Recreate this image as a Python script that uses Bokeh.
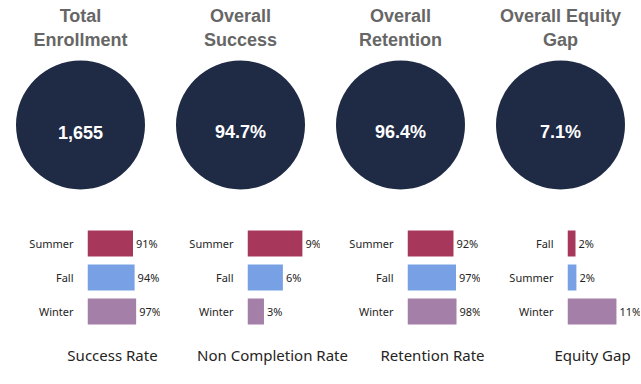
from bokeh.plotting import figure
from bokeh.layouts import column, row
from bokeh.models import ColumnDataSource, FactorRange, Range1d, LabelSet
from bokeh.core.properties import value
from bokeh.embed import file_html
from bokeh.resources import INLINE

# ---- data ----
kpi_title_line1 = ["Total", "Overall", "Overall", "Overall Equity"]
kpi_title_line2 = ["Enrollment", "Success", "Retention", "Gap"]
kpi_values = ["1,655", "94.7%", "96.4%", "7.1%"]

success_terms = ["Summer", "Fall", "Winter"]
success_rate = [91.0, 94.2, 97.3]
noncompletion_terms = ["Summer", "Fall", "Winter"]
noncompletion_rate = [9.0, 5.8, 2.7]
retention_terms = ["Summer", "Fall", "Winter"]
retention_rate = [92.0, 97.0, 98.0]
equity_terms = ["Fall", "Summer", "Winter"]
equity_gap = [1.8, 2.0, 11.0]

chart_titles = ["Success Rate", "Non Completion Rate", "Retention Rate", "Equity Gap"]

# ---- styles ----
CIRCLE = "#1F2B45"
TITLE_GRAY = "#666666"
DARK = "#252423"
BAR_COLORS = ["#A8385B", "#77A1E4", "#A47FA8"]
LABEL_FONT = "Noto Sans"
COL_W = 160
TOTAL_W = 4 * COL_W
BAR_LEFT = 87


def clean(p):
    p.grid.visible = False
    p.outline_line_color = None
    p.background_fill_color = None
    p.border_fill_color = "white"


# ---- KPI circles ----
top = figure(width=TOTAL_W, height=218, x_range=Range1d(-0.5, 3.5), y_range=Range1d(218, 0),
             x_axis_location=None, y_axis_location=None, title=None,
             output_backend="svg", toolbar_location=None, min_border=0)
clean(top)
kx = list(range(len(kpi_values)))
n = len(kpi_values)
ksrc = ColumnDataSource(dict(x=kx, l1=kpi_title_line1, l2=kpi_title_line2, v=kpi_values,
                             y1=[15.5] * n, y2=[39.5] * n, yc=[124.5] * n, yv=[131.5] * n))
top.scatter(x="x", y="yc", size=129, marker="circle", fill_color=CIRCLE,
            line_color=None, source=ksrc)
for col, ycol in (("l1", "y1"), ("l2", "y2")):
    top.text(x="x", y=ycol, text=col, source=ksrc,
             text_align="center", text_baseline="alphabetic",
             text_font=value("Liberation Sans"), text_font_style="bold",
             text_font_size="18px", text_color=TITLE_GRAY)
top.text(x="x", y="yv", text="v", source=ksrc, text_align="center",
         text_baseline="alphabetic", text_font=value("Liberation Sans"),
         text_font_style="bold", text_font_size="18px", text_color="white")


# ---- bar charts ----
def bar_chart(terms, vals, px_per_unit):
    frame_w = COL_W - BAR_LEFT
    src = ColumnDataSource(dict(term=terms, val=vals, color=BAR_COLORS,
                                label=[f"{round(v)}%" for v in vals]))
    p = figure(width=COL_W, height=122, y_range=FactorRange(factors=list(reversed(terms))),
               x_range=Range1d(0, frame_w / px_per_unit), x_axis_location=None, title=None,
               output_backend="svg", toolbar_location=None,
               min_border_left=BAR_LEFT, min_border_right=0,
               min_border_top=8, min_border_bottom=12)
    clean(p)
    p.hbar(y="term", left=0, right="val", height=0.765, fill_color="color",
           line_color=None, source=src)
    p.add_layout(LabelSet(x="val", y="term", text="label", source=src, x_offset=3,
                          text_baseline="middle", text_font=value(LABEL_FONT),
                          text_font_size="11px", text_color=DARK))
    ax = p.yaxis[0]
    ax.axis_line_color = None
    ax.major_tick_line_color = None
    ax.minor_tick_line_color = None
    ax.major_tick_in = 0
    ax.major_tick_out = 0
    ax.major_label_standoff = 14
    ax.major_label_text_font = LABEL_FONT
    ax.major_label_text_font_size = "11px"
    ax.major_label_text_color = DARK
    return p


b1 = bar_chart(success_terms, success_rate, 0.5)
b2 = bar_chart(noncompletion_terms, noncompletion_rate, 6.1)
b3 = bar_chart(retention_terms, retention_rate, 0.5)
b4 = bar_chart(equity_terms, equity_gap, 4.45)

# ---- bottom titles ----
bot = figure(width=TOTAL_W, height=28, x_range=Range1d(-0.5, 3.5), y_range=Range1d(0, 1),
             x_axis_location=None, y_axis_location=None, title=None,
             output_backend="svg", toolbar_location=None, min_border=0)
clean(bot)
tsrc = ColumnDataSource(dict(x=[i + 0.2 for i in range(len(chart_titles))],
                             y=[0.5] * len(chart_titles), t=chart_titles))
bot.text(x="x", y="y", text="t", source=tsrc, text_align="center",
         text_baseline="middle", text_font=value(LABEL_FONT),
         text_font_size="15px", text_color=DARK)

layout = column(top, row(b1, b2, b3, b4, spacing=0), bot, spacing=0)

open("out.html", "w").write(file_html(layout, INLINE))
